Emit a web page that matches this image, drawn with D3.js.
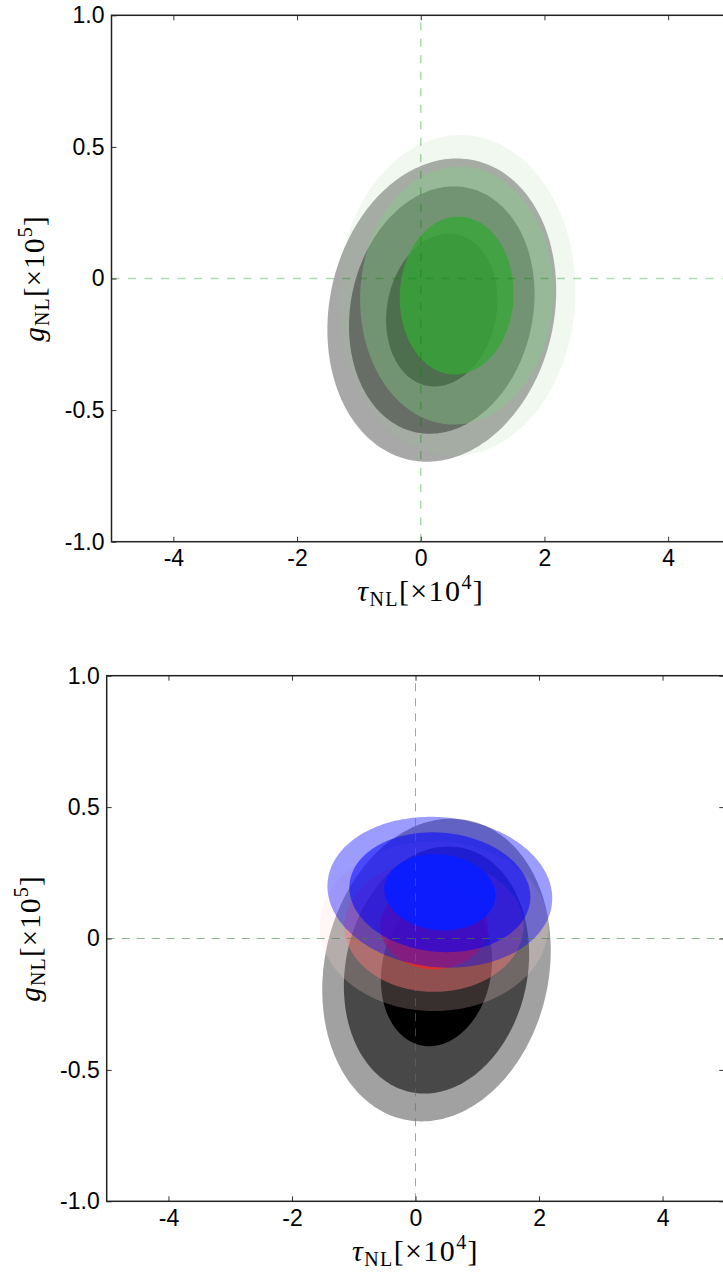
<!DOCTYPE html>
<html>
<head>
<meta charset="utf-8">
<script src="https://cdn.jsdelivr.net/npm/d3@7"></script>
<style>
  body { margin: 0; background: #fff; }
  svg { display: block; }
</style>
</head>
<body>
<svg id="fig" width="723" height="1273"></svg>
<script>
// Axis domains and ticks shared by both panels
const tauDomain = [-5, 5];
const gDomain = [-1, 1];
const tauTicks = [-4, -2, 0, 2, 4];
const gTicks = [-1.0, -0.5, 0, 0.5, 1.0];

// Confidence contours, listed inner (68%) -> middle (95%) -> outer (99.7%).
// Each contour: centre (tau, g), half-extent along tau, half-extent along g, correlation.

// Grey constraint, shown in both panels
const greyCenter = [0.34, -0.12];
const greyHalfTau = [0.90, 1.50, 1.85];
const greyHalfG = [0.29, 0.47, 0.576];
const greyCorr = 0.13;

// Upper panel: green constraint
const greenCenter = [0.58, -0.065];
const greenHalfTau = [0.92, 1.56, 1.92];
const greenHalfG = [0.30, 0.49, 0.61];
const greenCorr = 0.03;

// Lower panel: red constraint
const redCenter = [0.30, 0.047];
const redHalfTau = [0.87, 1.45, 1.85];
const redHalfG = [0.164, 0.25, 0.323];
const redCorr = 0.0;

// Lower panel: blue constraint
const blueCenter = [0.394, 0.176];
const blueHalfTau = [0.90, 1.465, 1.82];
const blueHalfG = [0.145, 0.228, 0.287];
const blueCorr = -0.08;

const svg = d3.select("#fig");

const panels = [
  {
    id: "top",
    frame: { left: 111.5, right: 730, top: 15.3, bottom: 541.7 },
    xLabelY: 601, yLabelX: 44,
    guide: { color: "rgb(0,128,0)", opacity: 0.3, width: 1.6, dash: "8,8.5" },
    sets: [
      { center: greyCenter, halfTau: greyHalfTau, halfG: greyHalfG, corr: greyCorr,
        fill: ["#000", "#000", "#000"], opacity: [0.72, 0.42, 0.34] },
      { center: greenCenter, halfTau: greenHalfTau, halfG: greenHalfG, corr: greenCorr,
        fill: ["rgb(55,165,55)", "rgb(136,204,136)", "rgb(136,204,136)"], opacity: [0.8, 0.4, 0.13] }
    ]
  },
  {
    id: "bottom",
    frame: { left: 106.7, right: 724.3, top: 675.7, bottom: 1201.3 },
    xLabelY: 1261, yLabelX: 40,
    guide: { color: "rgb(70,130,70)", opacity: 0.6, width: 1.0, dash: "8,7" },
    sets: [
      { center: greyCenter, halfTau: greyHalfTau, halfG: greyHalfG, corr: greyCorr,
        fill: ["#000", "#000", "#000"], opacity: [1.0, 0.55, 0.37] },
      { center: redCenter, halfTau: redHalfTau, halfG: redHalfG, corr: redCorr,
        fill: ["rgb(255,30,30)", "rgb(255,123,123)", "rgb(255,215,215)"], opacity: [0.65, 0.45, 0.22] },
      { center: blueCenter, halfTau: blueHalfTau, halfG: blueHalfG, corr: blueCorr,
        fill: ["rgb(10,30,255)", "rgb(0,0,255)", "rgb(0,0,255)"], opacity: [0.95, 0.52, 0.39] }
    ]
  }
];

// Outline of a correlated-Gaussian contour, sampled in data space
function contourPoints(center, a, b, rho) {
  const n = 240, s = Math.sqrt(1 - rho * rho), pts = [];
  for (let i = 0; i < n; i++) {
    const t = (2 * Math.PI * i) / n;
    pts.push([center[0] + a * Math.cos(t),
              center[1] + b * (rho * Math.cos(t) + s * Math.sin(t))]);
  }
  return pts;
}

const fmtTau = d => String(d);
const fmtG = d => (d === 0 ? "0" : d.toFixed(1));

panels.forEach(p => {
  const f = p.frame;
  const x = d3.scaleLinear().domain(tauDomain).range([f.left, f.right]);
  const y = d3.scaleLinear().domain(gDomain).range([f.bottom, f.top]);
  const g = svg.append("g").attr("class", "panel-" + p.id);

  const clipId = "clip-" + p.id;
  g.append("clipPath").attr("id", clipId)
    .append("rect")
    .attr("x", f.left).attr("y", f.top)
    .attr("width", f.right - f.left).attr("height", f.bottom - f.top);

  const plot = g.append("g").attr("clip-path", `url(#${clipId})`);
  const line = d3.line().x(d => x(d[0])).y(d => y(d[1])).curve(d3.curveLinearClosed);

  // contour fills: each set drawn outer level first
  p.sets.forEach(set => {
    [2, 1, 0].forEach(k => {
      plot.append("path")
        .attr("d", line(contourPoints(set.center, set.halfTau[k], set.halfG[k], set.corr)))
        .attr("fill", set.fill[k])
        .attr("fill-opacity", set.opacity[k])
        .attr("stroke", "none");
    });
  });

  // dashed guide lines through the origin
  plot.append("line")
    .attr("x1", x(tauDomain[0])).attr("x2", x(tauDomain[1]))
    .attr("y1", y(0)).attr("y2", y(0));
  plot.append("line")
    .attr("x1", x(0)).attr("x2", x(0))
    .attr("y1", y(gDomain[0])).attr("y2", y(gDomain[1]));
  plot.selectAll("line")
    .attr("stroke", p.guide.color)
    .attr("stroke-opacity", p.guide.opacity)
    .attr("stroke-width", p.guide.width)
    .attr("stroke-dasharray", p.guide.dash);

  // axes with inward ticks
  const tickStyle = sel => {
    sel.select(".domain").remove();
    sel.selectAll(".tick line").attr("stroke", "#333").attr("stroke-width", 1);
    sel.selectAll(".tick text")
      .attr("fill", "#000")
      .style("font-family", "'Liberation Sans', Arial, Helvetica, sans-serif")
      .style("font-size", "23px");
  };
  g.append("g").attr("transform", `translate(0,${f.bottom})`)
    .call(d3.axisBottom(x).tickValues(tauTicks).tickFormat(fmtTau)
      .tickSizeInner(-5).tickSizeOuter(0).tickPadding(8))
    .call(tickStyle);
  g.append("g").attr("transform", `translate(0,${f.top})`)
    .call(d3.axisTop(x).tickValues(tauTicks).tickFormat("")
      .tickSizeInner(-5).tickSizeOuter(0))
    .call(tickStyle);
  g.append("g").attr("transform", `translate(${f.left},0)`)
    .call(d3.axisLeft(y).tickValues(gTicks).tickFormat(fmtG)
      .tickSizeInner(-5).tickSizeOuter(0).tickPadding(7))
    .call(tickStyle);
  g.append("g").attr("transform", `translate(${f.right},0)`)
    .call(d3.axisRight(y).tickValues(gTicks).tickFormat("")
      .tickSizeInner(-5).tickSizeOuter(0))
    .call(tickStyle);

  // frame
  g.append("rect")
    .attr("x", f.left).attr("y", f.top)
    .attr("width", f.right - f.left).attr("height", f.bottom - f.top)
    .attr("fill", "none").attr("stroke", "#222").attr("stroke-width", 1.5);

  // axis titles
  const serif = "'Liberation Serif', 'Times New Roman', serif";
  const xt = g.append("text")
    .attr("x", (f.left + f.right) / 2).attr("y", p.xLabelY)
    .attr("text-anchor", "middle")
    .style("font-family", serif).style("font-size", "30px")
    .style("letter-spacing", "1.4px").attr("fill", "#000");
  xt.append("tspan").style("font-style", "italic").text("τ");
  xt.append("tspan").style("font-size", "20px").attr("dy", 5).text("NL");
  xt.append("tspan").attr("dy", -5).text("[×10");
  xt.append("tspan").style("font-size", "20px").attr("dy", -12).text("4");
  xt.append("tspan").attr("dy", 12).text("]");

  const yt = g.append("text")
    .attr("transform", `translate(${p.yLabelX},${(f.top + f.bottom) / 2}) rotate(-90)`)
    .attr("text-anchor", "middle")
    .style("font-family", serif).style("font-size", "29px")
    .style("letter-spacing", "1.2px").attr("fill", "#000");
  yt.append("tspan").style("font-style", "italic").text("g");
  yt.append("tspan").style("font-size", "20px").attr("dy", 5).text("NL");
  yt.append("tspan").attr("dy", -5).text("[×10");
  yt.append("tspan").style("font-size", "20px").attr("dy", -12).text("5");
  yt.append("tspan").attr("dy", 12).text("]");
});
</script>
</body>
</html>
